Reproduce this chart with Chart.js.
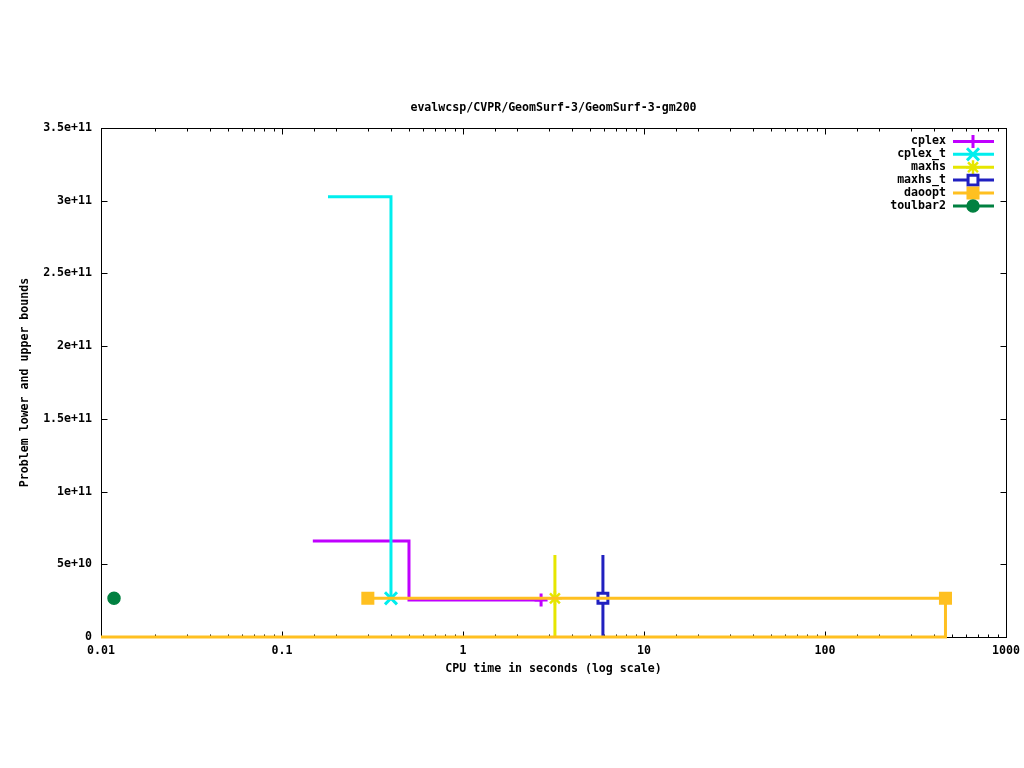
<!DOCTYPE html>
<html>
<head>
<meta charset="utf-8">
<script src="https://cdn.jsdelivr.net/npm/chart.js@4.4.1/dist/chart.umd.min.js"></script>
<style>
  html, body { margin: 0; padding: 0; background: #fff; }
  #wrap { width: 1024px; height: 768px; }
</style>
</head>
<body>
<div id="wrap"><canvas id="boundsChart" width="1024" height="768"></canvas></div>
<script>
// CPU time (s) and bound values
const cplexTime = [0.148, 0.503, 0.503, 2.70];
const cplexBound = [6.6e10, 6.6e10, 2.55e10, 2.55e10];
const cplexTTime = [0.1795, 0.40, 0.40];
const cplexTBound = [3.026e11, 3.026e11, 2.66e10];
const maxhsTime = [3.22, 3.22, 3.22];
const maxhsBound = [5.64e10, 2.66e10, 0];
const maxhsTTime = [5.93, 5.93, 5.93];
const maxhsTBound = [5.64e10, 2.66e10, 0];
const daooptTime = [0.298, 463, 463, 0.01];
const daooptBound = [2.66e10, 2.66e10, 0, 0];
const toulbar2Time = [0.0118];
const toulbar2Bound = [2.66e10];

// which points carry a marker
const cplexMarks = [3];
const cplexTMarks = [2];
const maxhsMarks = [1];
const maxhsTMarks = [1];
const daooptMarks = [0, 1];
const toulbar2Marks = [0];

const xTickLabels = ['0.01', '0.1', '1', '10', '100', '1000'];
const yTickLabels = ['0', '5e+10', '1e+11', '1.5e+11', '2e+11', '2.5e+11', '3e+11', '3.5e+11'];

const FONT = { family: '"DejaVu Sans Mono", "Liberation Mono", monospace', size: 11.6, weight: 'bold' };

function makeSet(label, times, bounds, marks, color, style, radius, fill, pw, order) {
  return {
    label: label,
    data: times.map((t, i) => ({ x: t, y: bounds[i] })),
    showLine: true,
    borderColor: color,
    borderWidth: 3,
    pointStyle: style,
    pointRadius: times.map((_, i) => marks.includes(i) ? radius : 0),
    pointHoverRadius: 0,
    pointBorderColor: color,
    pointBackgroundColor: fill,
    pointBorderWidth: pw,
    clip: 8,
    order: order
  };
}

const datasets = [
  makeSet('cplex', cplexTime, cplexBound, cplexMarks, '#c000ff', 'cross', 6.5, '#c000ff', 3, 6),
  makeSet('cplex_t', cplexTTime, cplexTBound, cplexTMarks, '#00eeee', 'crossRot', 8.5, '#00eeee', 3, 5),
  makeSet('maxhs', maxhsTime, maxhsBound, maxhsMarks, '#e6e600', 'star', 7, '#e6e600', 2.5, 4),
  makeSet('maxhs_t', maxhsTTime, maxhsTBound, maxhsTMarks, '#2020c0', 'rect', 7, '#ffffff', 3, 3),
  makeSet('daoopt', daooptTime, daooptBound, daooptMarks, '#ffc020', 'rect', 7.8, '#ffc020', 2, 2),
  makeSet('toulbar2', toulbar2Time, toulbar2Bound, toulbar2Marks, '#008040', 'circle', 6, '#008040', 1.5, 1)
];

function isDecade(v) {
  const l = Math.log10(v);
  return Math.abs(l - Math.round(l)) < 1e-6;
}

// frame + inward ticks on all four sides, like gnuplot
const framePlugin = {
  id: 'frame',
  beforeDatasetsDraw(chart) {
    const { ctx, chartArea: a, scales } = chart;
    const L = Math.round(a.left) + 0.5, R = Math.round(a.right) + 0.5;
    const T = Math.round(a.top) + 0.5, B = Math.round(a.bottom) + 0.5;
    ctx.save();
    ctx.strokeStyle = '#000';
    ctx.lineWidth = 1;
    ctx.strokeRect(L, T, R - L, B - T);
    ctx.beginPath();
    scales.x.ticks.forEach(t => {
      const px = Math.round(scales.x.getPixelForValue(t.value)) + 0.5;
      const len = isDecade(t.value) ? 6 : 3;
      ctx.moveTo(px, B); ctx.lineTo(px, B - len);
      ctx.moveTo(px, T); ctx.lineTo(px, T + len);
    });
    scales.y.ticks.forEach(t => {
      const py = Math.round(scales.y.getPixelForValue(t.value)) + 0.5;
      ctx.moveTo(L, py); ctx.lineTo(L + 6, py);
      ctx.moveTo(R, py); ctx.lineTo(R - 6, py);
    });
    ctx.stroke();
    ctx.restore();
  }
};

// key in the top right corner: text, sample line, marker
const keyPlugin = {
  id: 'key',
  afterDraw(chart) {
    const { ctx, chartArea: a } = chart;
    ctx.save();
    ctx.font = FONT.weight + ' ' + FONT.size + 'px ' + FONT.family;
    ctx.textAlign = 'right';
    ctx.textBaseline = 'middle';
    chart.data.datasets.forEach((ds, i) => {
      const y = a.top + 13.5 + i * 12.9;
      ctx.fillStyle = '#000';
      ctx.fillText(ds.label, a.right - 60, y);
      ctx.strokeStyle = ds.borderColor;
      ctx.lineWidth = 3;
      ctx.beginPath();
      ctx.moveTo(a.right - 53, y);
      ctx.lineTo(a.right - 12, y);
      ctx.stroke();
      const r = ds.pointRadius.find(v => v > 0);
      ctx.fillStyle = ds.pointBackgroundColor;
      ctx.strokeStyle = ds.pointBorderColor;
      ctx.lineWidth = ds.pointBorderWidth;
      if (Chart.helpers && Chart.helpers.drawPoint) {
        Chart.helpers.drawPoint(ctx, { pointStyle: ds.pointStyle, radius: r, rotation: 0, borderWidth: ds.pointBorderWidth }, a.right - 33, y);
      }
    });
    ctx.restore();
  }
};

const ctx = document.getElementById('boundsChart').getContext('2d');
const boundsChart = new Chart(ctx, {
  type: 'scatter',
  data: { datasets: datasets },
  options: {
    responsive: false,
    animation: false,
    devicePixelRatio: 1,
    layout: { padding: { top: 0, left: 0, right: 18, bottom: 0 } },
    plugins: {
      legend: { display: false },
      tooltip: { enabled: false },
      title: {
        display: true,
        text: 'evalwcsp/CVPR/GeomSurf-3/GeomSurf-3-gm200',
        color: '#000',
        font: FONT,
        fullSize: false,
        padding: { top: 101, bottom: 13 }
      }
    },
    scales: {
      x: {
        type: 'logarithmic',
        min: 0.01,
        max: 1000,
        afterFit(scale) {
          scale.height = 131;
          scale.paddingLeft = 0;
          scale.paddingRight = 0;
        },
        grid: { display: false, drawTicks: false },
        border: { display: false },
        ticks: {
          autoSkip: false,
          maxRotation: 0,
          color: '#000',
          font: FONT,
          padding: 7,
          callback: (v) => isDecade(v) ? xTickLabels[Math.round(Math.log10(v)) + 2] : ''
        },
        title: {
          display: true,
          text: 'CPU time in seconds (log scale)',
          color: '#000',
          font: FONT,
          padding: { top: 0, bottom: 92 }
        }
      },
      y: {
        min: 0,
        max: 3.5e11,
        afterFit(scale) { scale.width = 101; },
        grid: { display: false, drawTicks: false },
        border: { display: false },
        ticks: {
          stepSize: 5e10,
          color: '#000',
          font: FONT,
          padding: 9,
          callback: (v, i) => yTickLabels[i]
        },
        title: {
          display: true,
          text: 'Problem lower and upper bounds',
          color: '#000',
          font: FONT,
          padding: { top: 18, bottom: 0 }
        }
      }
    }
  },
  plugins: [framePlugin, keyPlugin]
});
</script>
</body>
</html>
